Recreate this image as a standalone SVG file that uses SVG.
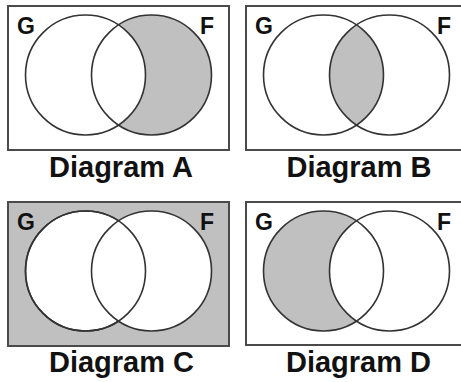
<svg xmlns="http://www.w3.org/2000/svg" width="461" height="382" viewBox="0 0 461 382">
<style>
.frame{fill:#fff;stroke:#4a4a4a;stroke-width:2}
.frame.g{fill:#c0c0c0}
.shade{fill:#c0c0c0;stroke:none}
.circ{fill:none;stroke:#333;stroke-width:1.6}
.circw{fill:#fff;stroke:#333;stroke-width:1.6}
.set{font-family:"Liberation Sans",Arial,sans-serif;font-weight:bold;font-size:23px;fill:#111}
.cap{font-family:"Liberation Sans",Arial,sans-serif;font-weight:bold;font-size:29px;fill:#111;text-anchor:middle}
</style>
<defs>
<circle id="cg" cx="77.5" cy="69" r="60"/>
<circle id="cf" cx="143.5" cy="69" r="60"/>
</defs>
<g id="diagramA" transform="translate(8,6)">
<rect class="frame" x="0" y="0" width="221" height="144"/>
<path class="shade" d="M110.5,18.89 A60,60 0 1,1 110.5,119.11 A60,60 0 0,0 110.5,18.89 Z"/>
<use href="#cg" class="circ"/>
<use href="#cf" class="circ"/>
<text class="set" x="9" y="28">G</text>
<text class="set" x="206" y="28" text-anchor="end">F</text>
</g>
<g id="diagramB" transform="translate(246,6)">
<rect class="frame" x="0" y="0" width="220" height="144"/>
<path class="shade" d="M110.5,18.89 A60,60 0 0,1 110.5,119.11 A60,60 0 0,1 110.5,18.89 Z"/>
<use href="#cg" class="circ"/>
<use href="#cf" class="circ"/>
<text class="set" x="9" y="28">G</text>
<text class="set" x="205" y="28" text-anchor="end">F</text>
</g>
<g id="diagramC" transform="translate(8,202)">
<rect class="frame g" x="0" y="0" width="221" height="144"/>
<use href="#cg" class="circw"/>
<use href="#cf" class="circw"/>
<use href="#cg" class="circ"/>
<text class="set" x="9" y="28">G</text>
<text class="set" x="206" y="28" text-anchor="end">F</text>
</g>
<g id="diagramD" transform="translate(246,202)">
<rect class="frame" x="0" y="0" width="220" height="143"/>
<path class="shade" d="M110.5,18.89 A60,60 0 1,0 110.5,119.11 A60,60 0 0,1 110.5,18.89 Z"/>
<use href="#cg" class="circ"/>
<use href="#cf" class="circ"/>
<text class="set" x="9" y="28">G</text>
<text class="set" x="205" y="28" text-anchor="end">F</text>
</g>
<g id="labels">
<text class="cap" x="121" y="177">Diagram A</text>
<text class="cap" x="359" y="177">Diagram B</text>
<text class="cap" x="121.5" y="372">Diagram C</text>
<text class="cap" x="358.5" y="372">Diagram D</text>
</g>
</svg>
